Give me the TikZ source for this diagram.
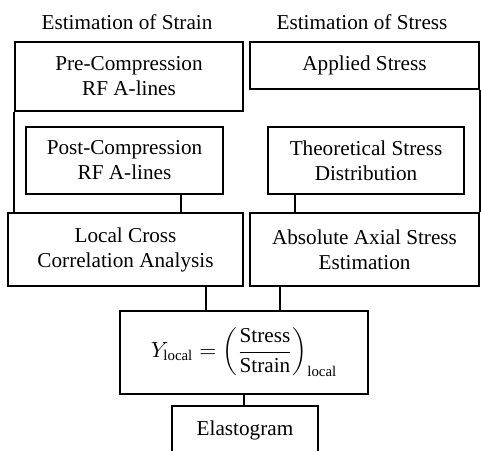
\documentclass[tikz,border=0pt]{standalone}
\usepackage{fontspec}
\setmainfont{Liberation Serif}
\begin{document}
\begin{tikzpicture}[x=0.5pt,y=-0.5pt,
  every node/.style={font=\fontsize{10.6}{12.5}\selectfont},
  box/.style={draw, line width=0.9pt, align=center, inner sep=0pt},
  link/.style={line width=0.9pt}]
\useasboundingbox (0,0) rectangle (481,450);
\node (t1) at (127,22) {Estimation of Strain};
\node (t2) at (362,22) {Estimation of Stress};
\node[box, minimum width=114pt, minimum height=34.5pt] (pre) at (129,76.5) {Pre-Compression\\RF A-lines};
\node[box, minimum width=114.5pt, minimum height=23.5pt] (app) at (364.5,65.5) {Applied Stress};
\node[box, minimum width=98.5pt, minimum height=33.5pt] (post) at (124.5,160.5) {Post-Compression\\RF A-lines};
\node[box, minimum width=98pt, minimum height=33.5pt] (theo) at (366,160.5) {Theoretical Stress\\Distribution};
\node[box, minimum width=117.5pt, minimum height=36.5pt] (loc) at (125.5,249.5) {Local Cross\\Correlation Analysis};
\node[box, minimum width=114.5pt, minimum height=36.5pt] (abs) at (364.5,249.5) {Absolute Axial Stress\\Estimation};
\node[box, minimum width=124pt, minimum height=41.5pt] (Y) at (244,352.5) {$\displaystyle Y_{\mathrm{local}}=\left(\frac{\mathrm{Stress}}{\mathrm{Strain}}\right)_{\mathrm{local}}$};
\node[box, minimum width=73pt, minimum height=27pt] (el) at (245,433) {};
\node (elt) at (245,430) {Elastogram};
\draw[link] (pre.south west) -- (pre.south west |- loc.north);
\draw[link] (post.south -| 181,0) -- (loc.north -| 181,0);
\draw[link] (app.south east) -- (abs.north east);
\draw[link] (theo.south -| 295,0) -- (abs.north -| 295,0);
\draw[link] (loc.south -| 206,0) -- (Y.north -| 206,0);
\draw[link] (abs.south -| 280,0) -- (Y.north -| 280,0);
\draw[link] (Y.south -| 244,0) -- (el.north -| 244,0);
\end{tikzpicture}
\end{document}
